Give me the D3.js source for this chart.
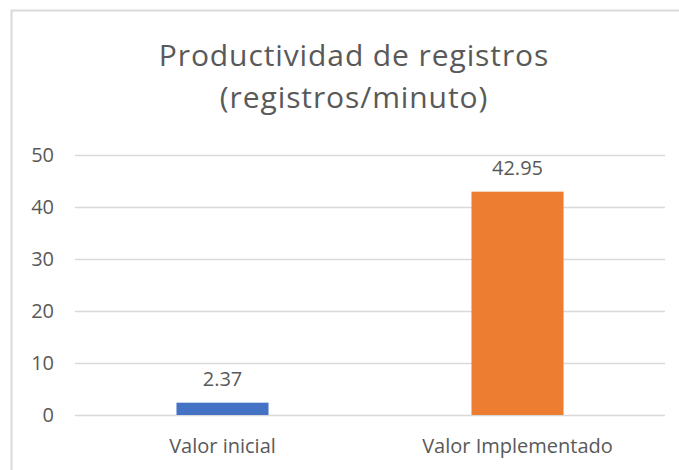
<!DOCTYPE html>
<html>
<head>
<meta charset="utf-8">
<script src="https://cdn.jsdelivr.net/npm/d3@7"></script>
<style>
  body { margin: 0; background: #fff; }
  text { font-family: "Open Sans", "Noto Sans", sans-serif; fill: #595959; }
</style>
</head>
<body>
<script>
// chart data
const categories = ["Valor inicial", "Valor Implementado"];
const values = [2.37, 42.95];
const barColors = ["#4472C4", "#ED7D31"];
const yTicks = [0, 10, 20, 30, 40, 50];
const titleLines = ["Productividad de registros", "(registros/minuto)"];

const width = 679, height = 470;
const plot = {left: 75, right: 665, top: 155, bottom: 415};

const svg = d3.select("body").append("svg")
    .attr("width", width)
    .attr("height", height);

// frame (only top and left edges show in the crop)
svg.append("path")
    .attr("d", "M11.5," + height + "V10.5H" + width)
    .attr("fill", "none")
    .attr("stroke", "#d9d9d9")
    .attr("stroke-width", 2);

const x = d3.scaleBand().domain(categories).range([plot.left, plot.right]).paddingInner(0.688).paddingOuter(0.344);
const y = d3.scaleLinear().domain([0, 50]).range([plot.bottom, plot.top]);

// title
svg.selectAll("text.title").data(titleLines).enter()
    .append("text")
    .attr("class", "title")
    .attr("x", 354)
    .attr("y", (d, i) => 66 + i * 42)
    .attr("text-anchor", "middle")
    .style("font-size", "30px")
    .style("letter-spacing", "0.9px")
    .text(d => d);

// gridlines + y labels
const yaxis = d3.axisLeft(y).tickValues(yTicks).tickSize(-(plot.right - plot.left)).tickPadding(21);
const gy = svg.append("g").attr("transform", "translate(" + plot.left + ",0)").call(yaxis);
gy.select(".domain").remove();
gy.selectAll(".tick line").attr("stroke", "#d9d9d9").attr("stroke-width", 1.5);
gy.selectAll(".tick text").style("font-size", "20px").attr("fill", "#595959").style("font-family", null);

// bars
svg.selectAll("rect.bar").data(values).enter()
    .append("rect")
    .attr("class", "bar")
    .attr("x", (d, i) => x(categories[i]))
    .attr("y", d => y(d))
    .attr("width", x.bandwidth())
    .attr("height", d => y(0) - y(d))
    .attr("fill", (d, i) => barColors[i]);

// value labels
svg.selectAll("text.val").data(values).enter()
    .append("text")
    .attr("class", "val")
    .attr("x", (d, i) => x(categories[i]) + x.bandwidth() / 2)
    .attr("y", d => y(d) - 17)
    .attr("text-anchor", "middle")
    .style("font-size", "20px")
    .text(d => d.toFixed(2));

// category labels
const xaxis = d3.axisBottom(x).tickSize(0).tickPadding(24);
const gx = svg.append("g").attr("transform", "translate(0," + plot.bottom + ")").call(xaxis);
gx.select(".domain").remove();
gx.selectAll(".tick text").style("font-size", "20px").attr("fill", "#595959").style("font-family", null);
</script>
</body>
</html>
